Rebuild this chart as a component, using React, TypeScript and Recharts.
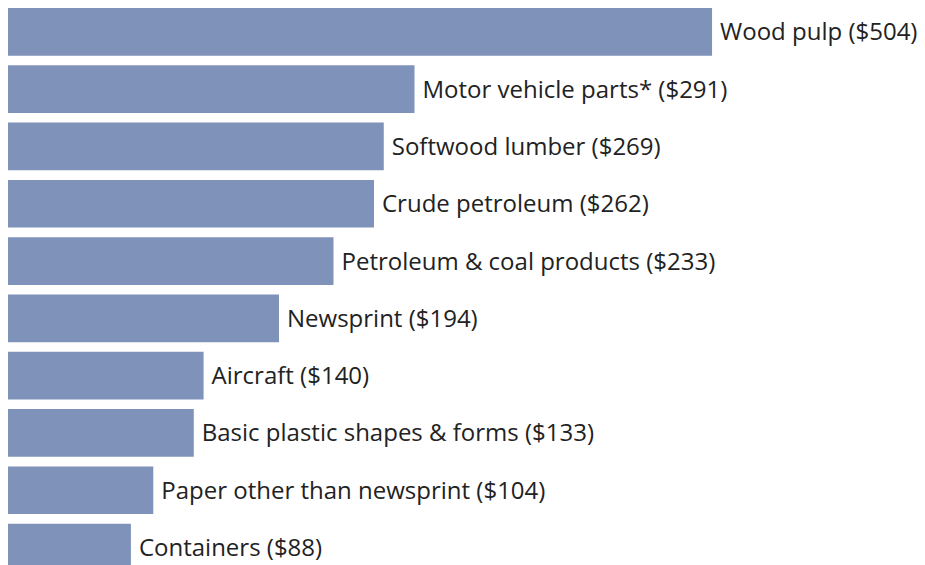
import React from "react";
import { BarChart, Bar, XAxis, YAxis, LabelList } from "recharts";

const categories = [
  "Wood pulp",
  "Motor vehicle parts*",
  "Softwood lumber",
  "Crude petroleum",
  "Petroleum & coal products",
  "Newsprint",
  "Aircraft",
  "Basic plastic shapes & forms",
  "Paper other than newsprint",
  "Containers",
];
const values = [504, 291, 269, 262, 233, 194, 140, 133, 104, 88];

const data = categories.map((name, i) => ({
  name,
  value: values[i],
  label: `${name} ($${values[i]})`,
}));

export default function App() {
  return (
    <div style={{ marginTop: -4.8 }}>
      <BarChart
        width={917}
        height={573}
        data={data}
        layout="vertical"
        margin={{ top: 0, right: 9, bottom: 0, left: 0 }}
        barSize={47.7}
        style={{ overflow: "visible" }}
      >
        <XAxis type="number" domain={[0, 650]} hide />
        <YAxis type="category" dataKey="name" hide />
        <Bar dataKey="value" fill="#7f92b9" isAnimationActive={false}>
          <LabelList
            dataKey="label"
            position="right"
            offset={8}
            style={{ fontFamily: "Open Sans", fontSize: 24, fill: "#222222" }}
          />
        </Bar>
      </BarChart>
    </div>
  );
}
